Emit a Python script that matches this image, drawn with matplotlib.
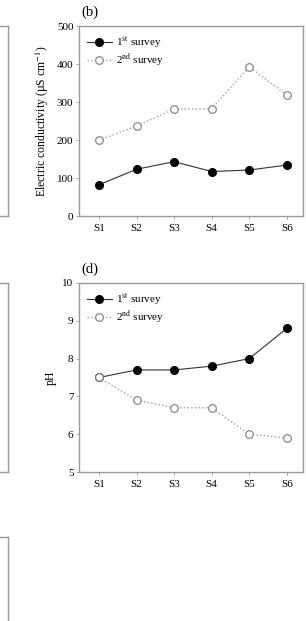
import numpy as np
import matplotlib
matplotlib.use('Agg')
import matplotlib.pyplot as plt

plt.rcParams['font.family'] = ['Liberation Serif', 'DejaVu Serif']
plt.rcParams['mathtext.fontset'] = 'stix'

sites = ['S1', 'S2', 'S3', 'S4', 'S5', 'S6']
ec_first = [82, 123, 143, 117, 121, 134]
ec_second = [199, 237, 281, 282, 393, 318]
ph_first = [7.5, 7.7, 7.7, 7.8, 8.0, 8.8]
ph_second = [7.5, 6.9, 6.7, 6.7, 6.0, 5.9]

W, H = 306, 621
SPINE = '#9a9a9a'
FS = 8


def px_axes(left, top, right, bottom):
    return [left / W, 1 - bottom / H, (right - left) / W, (bottom - top) / H]


fig = plt.figure(figsize=(W / 100, H / 100), dpi=100)

# cropped neighbour panels on the left: only their right edge shows
for top, bottom in [(26, 216), (283, 472), (537, 727)]:
    ax_l = fig.add_axes(px_axes(-220, top, 8, bottom))
    ax_l.set_xticks([]); ax_l.set_yticks([])
    for s in ax_l.spines.values():
        s.set_color(SPINE); s.set_linewidth(1.0)


def panel(rect, first, second, ylim, yticks, ylabel, tag):
    ax = fig.add_axes(px_axes(*rect))
    x = np.arange(1, len(sites) + 1)
    ax.plot(x, first, '-', color='#333333', lw=0.8, marker='o', ms=5.5,
            mfc='black', mec='black', label='1$^{\\rm st}$ survey', zorder=3)
    ax.plot(x, second, ':', color='#a0a0a0', lw=1.0, marker='o', ms=5.5,
            mfc='white', mec='#888888', mew=0.9, label='2$^{\\rm nd}$ survey', zorder=3)
    ax.set_xlim(0.47, 6.43)
    ax.set_ylim(*ylim)
    ax.set_xticks(x)
    ax.set_xticklabels(sites)
    ax.set_yticks(yticks)
    ax.tick_params(labelsize=FS, length=2, width=0.6, color=SPINE, pad=2)
    ax.tick_params(axis='x', pad=4)
    for s in ax.spines.values():
        s.set_color(SPINE); s.set_linewidth(1.0)
    ax.set_ylabel(ylabel, fontsize=8.5, labelpad=4)
    ax.text(0.012, 1.035, tag, transform=ax.transAxes, fontsize=10.5, va='bottom', ha='left')
    ax.legend(loc='upper left', frameon=False, fontsize=FS, handlelength=2.25,
              handletextpad=0.4, labelspacing=0.15, borderaxespad=0.4,
              bbox_to_anchor=(-0.005, 1.0))
    return ax


panel((79, 26, 303, 216), ec_first, ec_second, (0, 500), range(0, 501, 100),
      'Electric conductivity (µS cm$^{-1}$)', '(b)')
panel((79, 283, 303, 472), ph_first, ph_second, (5, 10), range(5, 11),
      'pH', '(d)')

fig.savefig('out.png', dpi=100)
